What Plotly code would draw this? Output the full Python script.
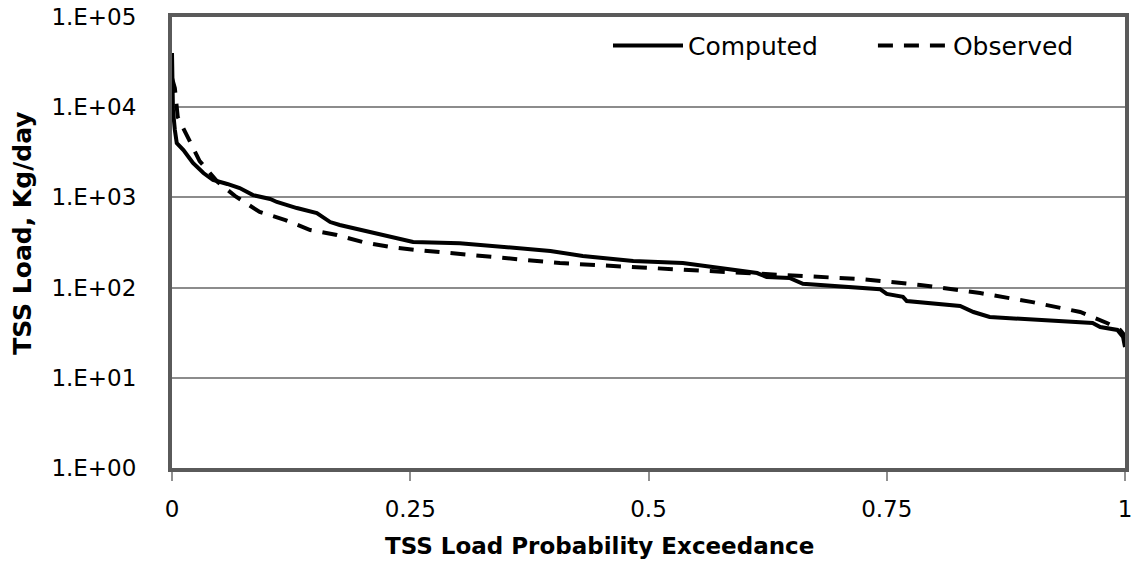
import plotly.graph_objects as go

# Exceedance probability (x) and TSS load in kg/day (y)
computed_x = [0.0, 0.001, 0.003, 0.005, 0.012, 0.022, 0.033, 0.043, 0.058, 0.071,
              0.085, 0.103, 0.110, 0.131, 0.152, 0.166, 0.176, 0.208, 0.236, 0.253,
              0.302, 0.397, 0.431, 0.484, 0.536, 0.572, 0.614, 0.624, 0.641, 0.648,
              0.662, 0.743, 0.750, 0.767, 0.771, 0.827, 0.841, 0.858, 0.966, 0.974,
              0.992, 0.998, 1.0]
computed_y = [40000, 9310, 5590, 4010, 3350, 2405, 1865, 1560, 1410, 1270,
              1060, 960, 890, 762, 671, 533, 494, 413, 346, 320,
              310, 255, 224, 197, 187, 165, 145, 131, 131, 128,
              110, 96, 85, 79, 71, 62.5, 53.6, 47.2, 40.5, 36.6,
              33.9, 28.3, 21.9]

observed_x = [0.0, 0.003, 0.006, 0.017, 0.029, 0.048, 0.066, 0.092, 0.119, 0.145,
              0.173, 0.200, 0.229, 0.257, 0.289, 0.407, 0.502, 0.572, 0.641, 0.725,
              0.785, 0.848, 0.903, 0.953, 0.981, 0.995, 1.0]
observed_y = [21000, 16300, 7790, 4440, 2530, 1480, 1040, 689, 561, 435,
              383, 320, 282, 261, 242, 187, 165, 149, 138, 124,
              107, 87, 69, 53.6, 40.5, 33.9, 29]

x_tickvals = [0, 0.25, 0.5, 0.75, 1]
x_ticktext = ["0", "0.25", "0.5", "0.75", "1"]
y_tickvals = [1, 10, 100, 1000, 10000, 100000]
y_ticktext = ["1.E+00", "1.E+01", "1.E+02", "1.E+03", "1.E+04", "1.E+05"]
x_title = "TSS Load Probability Exceedance"
y_title = "TSS Load, Kg/day"

FONT = "DejaVu Sans"

fig = go.Figure()
fig.add_trace(go.Scatter(x=computed_x, y=computed_y, mode="lines", name="Computed",
                         legend="legend",
                         line=dict(color="black", width=4)))
fig.add_trace(go.Scatter(x=observed_x, y=observed_y, mode="lines", name="Observed",
                         legend="legend2",
                         line=dict(color="black", width=4, dash="15px,11px")))

leg_common = dict(orientation="h", y=0.987, xanchor="left", yanchor="top",
                  bgcolor="rgba(0,0,0,0)", itemwidth=70,
                  font=dict(family=FONT, size=25, color="black"))

fig.update_layout(
    width=1135, height=567,
    margin=dict(l=172, r=10, t=17, b=99),
    paper_bgcolor="white", plot_bgcolor="white",
    font=dict(family=FONT, size=23, color="black"),
    showlegend=True,
    legend=dict(x=0.4575, **leg_common),
    legend2=dict(x=0.7355, **leg_common),
    xaxis=dict(range=[0, 1], tickvals=x_tickvals, ticktext=x_ticktext,
               automargin=False,
               showgrid=False, zeroline=False,
               showline=True, linecolor="#5a5a5a", linewidth=4, mirror=True,
               ticks="outside", ticklen=9, tickwidth=2, tickcolor="#909090",
               ticklabelstandoff=8,
               tickfont=dict(family=FONT, size=23)),
    yaxis=dict(type="log", range=[-0.0005, 5.0005], tickvals=y_tickvals, ticktext=y_ticktext,
               automargin=False,
               showgrid=True, gridcolor="#8c8c8c", gridwidth=2, zeroline=False,
               showline=True, linecolor="#5a5a5a", linewidth=4, mirror=True,
               ticks="", ticklabelstandoff=27,
               tickfont=dict(family=FONT, size=23)),
    annotations=[
        dict(text="<b>" + x_title + "</b>", xref="paper", yref="paper",
             x=0.449, y=-0.172, xanchor="center", yanchor="middle",
             showarrow=False, font=dict(family=FONT, size=23, color="black")),
        dict(text="<b>" + y_title + "</b>", xref="paper", yref="paper",
             x=-0.157, y=0.52, xanchor="center", yanchor="middle", textangle=-90,
             showarrow=False, font=dict(family=FONT, size=25, color="black")),
    ],
)

fig.write_html("out.html")
